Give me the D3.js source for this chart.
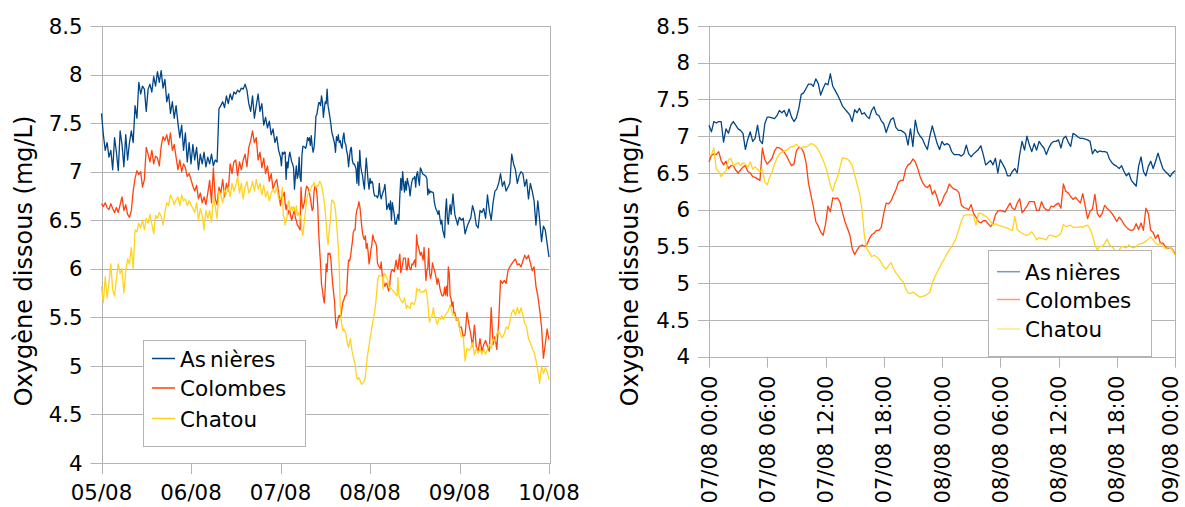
<!DOCTYPE html>
<html><head><meta charset="utf-8">
<script src="https://cdn.jsdelivr.net/npm/d3@7"></script>
<style>
body{margin:0;background:#fff}
svg{display:block}
text{font-family:"DejaVu Sans",sans-serif;fill:#000}
</style>
</head><body>
<svg id="c" width="1185" height="507"></svg>
<script>
// ---------- DATA ----------
const seriesNames = ["Asnières", "Colombes", "Chatou"];
const seriesColors = ["#004586", "#ff420e", "#ffd320"];
const yTickValues = [4, 4.5, 5, 5.5, 6, 6.5, 7, 7.5, 8, 8.5];
const yTitle = "Oxygène dissous (mg/L)";
const leftDays = ["05/08", "06/08", "07/08", "08/08", "09/08", "10/08"];
const rightTicks = ["07/08 00:00", "07/08 06:00", "07/08 12:00", "07/08 18:00", "08/08 00:00", "08/08 06:00", "08/08 12:00", "08/08 18:00", "09/08 00:00"];

// 05/08 00:00 -> 06/08 23:30, every 30 min
const asnieresA = [7.60,7.38,7.22,7.30,7.15,7.22,7.02,7.35,7.20,7.01,
7.42,7.28,7.05,7.38,7.12,7.30,7.42,7.30,7.68,7.55,
7.92,7.80,7.88,7.85,7.62,7.85,7.90,7.82,7.98,7.88,
8.03,7.92,8.04,7.86,7.95,7.72,7.80,7.60,7.72,7.55,
7.68,7.50,7.35,7.48,7.22,7.40,7.10,7.30,
7.08,7.28,7.12,7.25,7.02,7.18,7.08,7.20,7.05,7.15,
7.08,7.18,7.06,7.12,7.10,7.65,7.68,7.72,7.66,7.78,
7.70,7.80,7.74,7.82,7.80,7.84,7.82,7.86,7.85,7.90,
7.84,7.70,7.62,7.78,7.55,7.68,7.80,7.62,7.70,7.48,
7.56,7.45,7.52,7.38,7.44,7.30,7.36,7.22];
const colombesA = [6.67,6.64,6.68,6.63,6.61,6.67,6.62,6.58,6.63,6.58,
6.66,6.74,6.60,6.66,6.56,6.53,6.60,6.80,6.93,7.01,
6.97,7.00,6.84,6.92,7.25,7.18,7.10,7.22,7.08,7.16,
7.14,7.06,7.26,7.36,7.32,7.38,7.28,7.40,7.22,7.28,
7.15,7.02,7.12,7.00,7.08,7.04,6.95,6.98,
6.92,6.85,6.80,6.86,6.72,6.78,6.68,6.74,6.66,6.78,
6.91,6.68,7.04,6.72,6.66,6.84,6.78,6.92,6.74,6.88,
6.80,7.08,6.98,7.10,7.12,6.95,7.10,7.02,7.12,7.18,
7.05,7.25,7.32,7.42,7.30,7.35,7.12,7.20,7.04,7.14,
6.98,7.06,6.90,6.98,6.82,6.88,6.92,6.78];
const chatouA = [5.82,5.65,5.92,5.70,5.85,6.05,5.78,5.72,5.90,6.05,
5.95,6.00,5.75,5.98,6.10,6.05,6.22,6.00,6.40,6.38,
6.47,6.42,6.50,6.40,6.52,6.47,6.56,6.46,6.36,6.55,
6.52,6.58,6.54,6.45,6.58,6.68,6.65,6.76,6.72,6.66,
6.71,6.74,6.65,6.76,6.70,6.72,6.65,6.70,
6.66,6.62,6.58,6.68,6.50,6.62,6.55,6.40,6.60,6.52,
6.60,6.48,6.74,6.64,6.52,6.80,6.76,6.68,6.82,6.77,
6.84,6.74,6.88,6.80,6.86,6.95,6.78,6.88,6.72,6.84,
6.90,6.78,6.82,6.90,6.80,6.92,6.82,6.88,6.76,6.86,
6.74,6.80,6.70,6.78,6.82,6.78,6.84,6.72];

// 07/08 00:00 -> 09/08 00:00, every 15 min
const asnieres = [7.15,7.06,7.20,7.18,7.20,7.20,6.92,7.10,7.04,7.15,
7.20,7.15,7.10,7.08,7.04,6.82,6.96,7.06,6.93,6.97,
7.15,6.94,6.90,7.17,7.26,7.26,7.25,7.24,7.28,7.35,
7.32,7.35,7.27,7.37,7.26,7.20,7.25,7.38,7.57,7.59,
7.65,7.71,7.71,7.68,7.78,7.72,7.56,7.65,7.72,7.70,
7.85,7.68,7.62,7.56,7.49,7.41,7.37,7.33,7.29,7.20,
7.36,7.32,7.38,7.30,7.32,7.27,7.24,7.35,7.40,7.30,
7.28,7.21,7.17,7.05,7.15,7.23,7.25,7.12,7.08,7.08,
7.06,7.03,6.88,7.10,6.86,7.22,7.06,7.00,6.96,6.88,
6.82,7.00,7.14,7.02,6.90,6.82,6.93,6.88,6.90,6.88,
6.79,6.75,6.75,6.75,6.73,6.76,6.88,6.76,6.72,6.76,
6.79,6.82,6.87,6.75,6.61,6.64,6.67,6.61,6.70,6.50,
6.68,6.62,6.56,6.46,6.46,6.52,6.56,6.50,6.75,6.93,
6.81,7.00,6.88,6.79,6.90,6.81,6.93,6.88,6.84,6.75,
6.84,6.90,6.93,6.93,6.95,6.84,6.97,7.00,6.92,6.86,
7.04,7.02,6.99,6.97,6.97,6.96,6.95,6.93,6.76,6.82,
6.78,6.80,6.79,6.79,6.78,6.69,6.64,6.61,6.59,6.56,
6.60,6.52,6.46,6.50,6.40,6.36,6.32,6.59,6.72,6.52,
6.46,6.59,6.66,6.56,6.66,6.77,6.66,6.56,6.52,6.49,
6.45,6.50,6.53];
const colombes = [6.65,6.74,6.76,6.75,6.79,6.67,6.61,6.66,6.56,6.60,
6.60,6.54,6.50,6.54,6.58,6.60,6.52,6.50,6.45,6.44,
6.42,6.40,6.84,6.68,6.62,6.66,6.70,6.80,6.85,6.84,
6.82,6.78,6.73,6.66,6.60,6.62,6.80,6.85,6.84,6.78,
6.64,6.36,6.20,6.04,5.84,5.78,5.70,5.65,5.80,6.05,
5.97,6.16,6.15,6.16,6.10,5.96,5.84,5.75,5.66,5.47,
5.39,5.45,5.50,5.52,5.50,5.52,5.60,5.66,5.68,5.72,
5.72,5.76,5.95,6.09,6.08,6.12,6.20,6.27,6.37,6.40,
6.40,6.55,6.61,6.63,6.69,6.65,6.56,6.45,6.37,6.32,
6.30,6.34,6.21,6.26,6.17,6.05,6.11,6.20,6.25,6.35,
6.31,6.28,6.27,6.23,6.06,6.03,6.02,6.00,6.07,5.95,
5.90,5.84,5.82,5.85,5.85,5.81,5.77,5.81,5.93,5.98,
5.99,5.98,5.97,6.03,6.09,6.02,6.00,6.09,6.15,5.96,
6.00,6.05,6.11,6.11,6.11,5.99,5.99,6.11,6.03,6.00,
5.99,6.05,6.04,6.07,6.09,6.02,6.35,6.25,6.23,6.18,
6.14,6.17,6.13,6.09,6.22,6.05,5.88,5.98,6.01,6.21,
5.95,5.90,5.95,6.06,6.02,5.99,5.95,5.90,5.84,5.90,
5.86,5.80,5.76,5.73,5.72,5.73,5.81,5.73,5.82,5.72,
6.02,5.95,5.72,5.69,5.61,5.66,5.54,5.55,5.50,5.47,
5.49,5.46,5.40];
const chatou = [6.72,6.75,6.84,6.55,6.52,6.45,6.50,6.53,6.68,6.70,
6.60,6.62,6.64,6.60,6.64,6.62,6.58,6.65,6.55,6.58,
6.55,6.52,6.55,6.38,6.34,6.44,6.52,6.62,6.70,6.76,
6.78,6.80,6.81,6.84,6.86,6.86,6.89,6.86,6.84,6.86,
6.85,6.87,6.90,6.89,6.86,6.82,6.75,6.68,6.59,6.47,
6.33,6.25,6.37,6.45,6.58,6.71,6.70,6.69,6.66,6.60,
6.48,6.35,6.23,6.02,5.65,5.47,5.42,5.36,5.38,5.36,
5.33,5.28,5.22,5.19,5.24,5.28,5.20,5.14,5.10,5.05,
5.02,4.93,4.87,4.86,4.88,4.86,4.83,4.81,4.82,4.83,
4.85,4.88,5.00,5.08,5.15,5.21,5.28,5.33,5.40,5.45,
5.50,5.56,5.63,5.74,5.85,5.92,5.93,5.93,5.93,5.92,
5.79,5.95,5.95,5.93,5.91,5.88,5.84,5.79,5.81,5.79,
5.78,5.77,5.76,5.75,5.73,5.72,5.91,5.73,5.70,5.68,
5.66,5.65,5.67,5.70,5.65,5.59,5.62,5.61,5.60,5.59,
5.65,5.65,5.64,5.63,5.65,5.68,5.80,5.77,5.78,5.79,
5.76,5.76,5.76,5.77,5.76,5.78,5.79,5.74,5.65,5.52,
5.45,5.50,5.50,5.54,5.60,5.52,5.50,5.46,5.43,5.45,
5.50,5.49,5.48,5.52,5.49,5.48,5.50,5.53,5.54,5.55,
5.57,5.60,5.63,5.59,5.55,5.52,5.54,5.51,5.47,5.48,
5.49,5.45,5.38];

// 09/08 00:30 -> 10/08 00:00, every 30 min
const asnieresB = [6.50,6.52,6.36,6.43,6.48,6.52,6.65,6.58,6.45,6.42,
6.60,6.58,6.62,6.52,6.76,6.60,6.50,6.68,6.80,6.82,
6.88,6.98,6.85,6.90,6.80,6.84,6.88,7.18,7.08,7.02,
6.88,6.96,7.00,6.98,6.85,6.92,6.72,6.88,6.80,6.70,
6.45,6.70,6.50,6.28,6.44,6.40,6.26,6.12];
const colombesB = [5.40,5.30,5.32,5.55,5.43,5.33,5.20,5.42,5.20,5.14,
5.28,5.15,5.22,5.26,5.20,5.15,5.60,5.22,5.30,5.17,
5.45,5.88,5.85,5.88,5.85,5.98,6.02,6.05,6.08,6.10,
6.04,6.05,6.02,6.08,6.14,6.10,6.14,6.06,5.98,6.02,
5.82,5.72,5.58,5.40,5.08,5.22,5.38,5.27];
const chatouB = [5.30,5.30,5.05,5.18,5.16,5.18,5.24,5.11,5.18,5.13,
5.18,5.12,5.17,5.12,5.17,5.22,5.18,5.28,5.25,5.33,
5.36,5.32,5.29,5.33,5.40,5.38,5.45,5.55,5.58,5.52,
5.60,5.54,5.60,5.52,5.44,5.40,5.28,5.24,5.18,5.14,
5.06,4.95,4.82,5.00,4.92,4.98,4.94,4.86];

// ---------- BUILD ----------
const HOUR = 3600e3;
const T0 = Date.UTC(2009, 7, 5);
function fullSeries(A, M, B) {
  const p = [];
  A.forEach((v, k) => p.push([new Date(T0 + k * 0.5 * HOUR), v]));
  M.forEach((v, i) => p.push([new Date(T0 + 48 * HOUR + i * 0.25 * HOUR), v]));
  B.forEach((v, k) => p.push([new Date(T0 + 96 * HOUR + (k + 1) * 0.5 * HOUR), v]));
  return p;
}
function midSeries(M) {
  return M.map((v, i) => [new Date(T0 + 48 * HOUR + i * 0.25 * HOUR), v]);
}
const leftData = [fullSeries(asnieresA, asnieres, asnieresB),
                  fullSeries(colombesA, colombes, colombesB),
                  fullSeries(chatouA, chatou, chatouB)];
const rightData = [midSeries(asnieres), midSeries(colombes), midSeries(chatou)];

const svg = d3.select("#c");
const GRID = "#b3b3b3";
const fmtDay = d3.utcFormat("%d/%m");
const fmtHour = d3.utcFormat("%d/%m %H:%M");

function drawChart(cfg) {
  const g = svg.append("g");
  const x = d3.scaleUtc().domain(cfg.xDomain).range([cfg.x0, cfg.x1]);
  const y = d3.scaleLinear().domain([4, 8.5]).range([cfg.y1, cfg.y0]);

  g.selectAll("line.grid").data(yTickValues).join("line")
    .attr("x1", cfg.x0 - cfg.tick).attr("x2", cfg.x1)
    .attr("y1", d => Math.round(y(d)) + 0.5).attr("y2", d => Math.round(y(d)) + 0.5)
    .attr("stroke", GRID).attr("stroke-width", 1);
  g.selectAll("text.yl").data(yTickValues).join("text")
    .attr("x", cfg.x0 - cfg.tick - 8).attr("y", d => y(d)).attr("dy", "0.36em")
    .attr("text-anchor", "end").style("font-size", "21.3px")
    .text(d => d3.format("")(d));
  g.append("rect").attr("x", Math.round(cfg.x0) + 0.5).attr("y", Math.round(cfg.y0) + 0.5)
    .attr("width", Math.round(cfg.x1 - cfg.x0)).attr("height", Math.round(cfg.y1 - cfg.y0))
    .attr("fill", "none").attr("stroke", GRID);
  g.selectAll("line.xt").data(cfg.xTicks).join("line")
    .attr("x1", d => Math.round(x(d)) + 0.5).attr("x2", d => Math.round(x(d)) + 0.5)
    .attr("y1", cfg.y1).attr("y2", cfg.y1 + cfg.tick)
    .attr("stroke", GRID);
  if (cfg.rotate) {
    g.selectAll("text.xl").data(cfg.xTicks).join("text")
      .attr("transform", d => `translate(${Math.min(x(d), 1170)},${cfg.y1 + 19}) rotate(-90)`)
      .attr("dy", "0.36em").attr("text-anchor", "end").style("font-size", "21px")
      .text(d => cfg.fmt(d));
  } else {
    g.selectAll("text.xl").data(cfg.xTicks).join("text")
      .attr("x", d => x(d)).attr("y", cfg.y1 + 37)
      .attr("text-anchor", "middle").style("font-size", "21.3px")
      .text(d => cfg.fmt(d));
  }
  g.append("text")
    .attr("transform", `translate(${cfg.titleX},261) rotate(-90)`)
    .attr("text-anchor", "middle").style("font-size", "24px")
    .text(yTitle);

  const line = d3.line().x(d => x(d[0])).y(d => y(d[1]));
  cfg.data.forEach((s, i) => {
    g.append("path").datum(s).attr("d", line)
      .attr("fill", "none").attr("stroke", seriesColors[i])
      .attr("stroke-width", 1.3).attr("stroke-linejoin", "round");
  });

  const L = cfg.legend;
  const lg = g.append("g");
  lg.append("rect").attr("x", L.x + 0.5).attr("y", L.y + 0.5).attr("width", L.w).attr("height", L.h)
    .attr("fill", "#fff").attr("stroke", GRID);
  seriesNames.forEach((name, i) => {
    const ly = L.rows[i];
    lg.append("line").attr("x1", L.x + 9).attr("x2", L.x + 32)
      .attr("y1", ly).attr("y2", ly)
      .attr("stroke", seriesColors[i]).attr("stroke-width", 1.5)
      .attr("stroke-opacity", L.sampleOpacity);
    const t = lg.append("text").attr("x", L.x + 37).attr("y", ly + 8)
      .style("font-size", "21.5px");
    if (name === "Asnières") {
      t.append("tspan").text("As");
      t.append("tspan").attr("dx", 4).text("nières");
    } else {
      t.text(name);
    }
  });
}

const leftTicks = leftDays.map((s, i) => new Date(T0 + i * 24 * HOUR));
const rightTickDates = rightTicks.map((s, i) => new Date(T0 + 48 * HOUR + i * 6 * HOUR));

drawChart({
  x0: 101.5, x1: 549, y0: 26, y1: 463, tick: 11,
  xDomain: [new Date(T0), new Date(T0 + 120 * HOUR)],
  xTicks: leftTicks, fmt: fmtDay, rotate: false,
  titleX: 31.5, data: leftData,
  legend: { x: 143, y: 340, w: 162, h: 106, rows: [358.5, 388, 418.5], sampleOpacity: 1 }
});
drawChart({
  x0: 709, x1: 1175, y0: 26, y1: 356.7, tick: 11,
  xDomain: [new Date(T0 + 48 * HOUR), new Date(T0 + 96 * HOUR)],
  xTicks: rightTickDates, fmt: fmtHour, rotate: true,
  titleX: 638, data: rightData,
  legend: { x: 988, y: 250, w: 163, h: 106, rows: [271.7, 299.5, 329], sampleOpacity: 0.55 }
});
</script>
</body></html>
